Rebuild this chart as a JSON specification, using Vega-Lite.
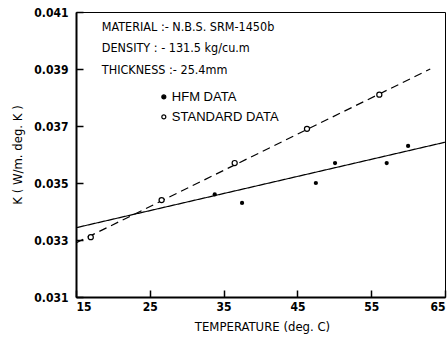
{
  "$schema": "https://vega.github.io/schema/vega-lite/v6.json",
  "width": 369,
  "height": 285,
  "autosize": "none",
  "padding": {"left": 76, "top": 12, "right": 3, "bottom": 48},
  "background": "white",
  "config": {
    "view": {"stroke": "black", "strokeWidth": 1},
    "font": "DejaVu Sans Condensed"
  },
  "datasets": {
    "fits": [
      {"series": "HFM fit", "temp": 15, "k": 0.03343},
      {"series": "HFM fit", "temp": 65, "k": 0.03643},
      {"series": "Standard fit", "temp": 15, "k": 0.0329},
      {"series": "Standard fit", "temp": 63, "k": 0.0390}
    ],
    "hfm": [
      {"temp": 33.8, "k": 0.0346},
      {"temp": 37.5, "k": 0.0343},
      {"temp": 47.5, "k": 0.0350},
      {"temp": 50.1, "k": 0.0357},
      {"temp": 57.1, "k": 0.0357},
      {"temp": 60.0, "k": 0.0363}
    ],
    "standard": [
      {"temp": 17.0, "k": 0.0331},
      {"temp": 26.6, "k": 0.0344},
      {"temp": 36.5, "k": 0.0357},
      {"temp": 46.3, "k": 0.0369},
      {"temp": 56.1, "k": 0.0381}
    ],
    "notes": [
      {"label": "MATERIAL :- N.B.S. SRM-1450b", "temp": 18.5, "k": 0.04048},
      {"label": "DENSITY : - 131.5 kg/cu.m", "temp": 18.5, "k": 0.03972},
      {"label": "THICKNESS :- 25.4mm", "temp": 18.5, "k": 0.03896}
    ],
    "legend": [
      {"label": "HFM  DATA", "kind": "HFM", "temp": 26.9, "k": 0.03802},
      {"label": "STANDARD  DATA", "kind": "STANDARD", "temp": 26.9, "k": 0.03732}
    ]
  },
  "layer": [
    {
      "data": {"name": "fits"},
      "mark": {"type": "line", "color": "black", "strokeWidth": 1.2, "clip": true},
      "encoding": {
        "x": {
          "field": "temp", "type": "quantitative",
          "scale": {"domain": [15, 65], "nice": false, "zero": false},
          "axis": {
            "title": "TEMPERATURE  (deg. C)",
            "values": [15, 25, 35, 45, 55, 65],
            "grid": false, "domain": true, "domainColor": "black", "domainWidth": 2,
            "tickColor": "black", "tickSize": -7, "tickWidth": 1.5,
            "labelPadding": 11, "labelFontSize": 12, "labelColor": "black",
            "labelFont": "DejaVu Sans Condensed", "labelFontWeight": "bold",
            "titleFont": "DejaVu Sans Condensed", "titleFontSize": 13, "titleFontWeight": "normal",
            "titleColor": "black", "titlePadding": 8, "titleX": 186
          }
        },
        "y": {
          "field": "k", "type": "quantitative",
          "scale": {"domain": [0.031, 0.041], "nice": false, "zero": false},
          "axis": {
            "title": "K  ( W/m. deg. K )",
            "values": [0.031, 0.033, 0.035, 0.037, 0.039, 0.041],
            "format": ".3f",
            "grid": false, "domain": true, "domainColor": "black", "domainWidth": 2,
            "tickColor": "black", "tickSize": -7, "tickWidth": 1.5,
            "labelPadding": 15, "labelFontSize": 12, "labelColor": "black",
            "labelFont": "DejaVu Sans Condensed", "labelFontWeight": "bold",
            "titleFont": "DejaVu Sans Condensed", "titleFontSize": 13, "titleFontWeight": "normal",
            "titleColor": "black", "titlePadding": 9
          }
        },
        "strokeDash": {
          "field": "series", "type": "nominal",
          "scale": {"domain": ["HFM fit", "Standard fit"], "range": [[1, 0], [8, 5]]},
          "legend": null
        },
        "detail": {"field": "series"}
      }
    },
    {
      "data": {"name": "hfm"},
      "mark": {"type": "point", "filled": true, "color": "black", "size": 18, "opacity": 1},
      "encoding": {
        "x": {"field": "temp", "type": "quantitative"},
        "y": {"field": "k", "type": "quantitative"}
      }
    },
    {
      "data": {"name": "standard"},
      "mark": {"type": "point", "filled": false, "color": "black", "fill": "white", "size": 26, "strokeWidth": 1.2, "opacity": 1},
      "encoding": {
        "x": {"field": "temp", "type": "quantitative"},
        "y": {"field": "k", "type": "quantitative"}
      }
    },
    {
      "data": {"name": "notes"},
      "mark": {"type": "text", "align": "left", "baseline": "middle", "font": "DejaVu Sans Condensed", "fontSize": 12.5, "fontWeight": "normal", "color": "black"},
      "encoding": {
        "x": {"field": "temp", "type": "quantitative"},
        "y": {"field": "k", "type": "quantitative"},
        "text": {"field": "label"}
      }
    },
    {
      "data": {"name": "legend"},
      "mark": {"type": "point", "color": "black", "size": 16, "strokeWidth": 1.2, "opacity": 1},
      "encoding": {
        "x": {"field": "temp", "type": "quantitative"},
        "y": {"field": "k", "type": "quantitative"},
        "fill": {
          "field": "kind", "type": "nominal",
          "scale": {"domain": ["HFM", "STANDARD"], "range": ["black", "white"]},
          "legend": null
        }
      }
    },
    {
      "data": {"name": "legend"},
      "mark": {"type": "text", "align": "left", "baseline": "middle", "dx": 8, "font": "Liberation Sans", "fontSize": 13, "color": "black"},
      "encoding": {
        "x": {"field": "temp", "type": "quantitative"},
        "y": {"field": "k", "type": "quantitative"},
        "text": {"field": "label"}
      }
    }
  ]
}
